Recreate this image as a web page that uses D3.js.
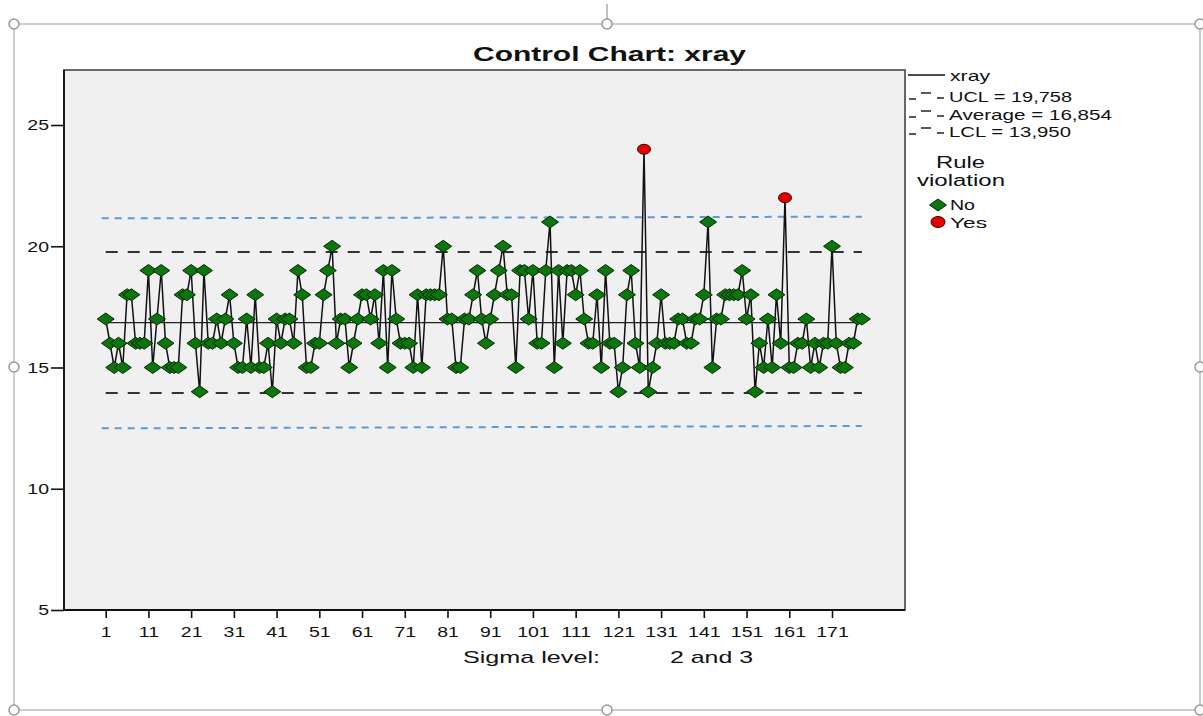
<!DOCTYPE html>
<html>
<head>
<meta charset="utf-8">
<script src="https://cdn.jsdelivr.net/npm/d3@7"></script>
<style>
  html, body { margin: 0; padding: 0; background: #fff; }
  svg { display: block; font-family: 'Liberation Sans', Arial, sans-serif; }
</style>
</head>
<body>
<svg id="chart" width="1203" height="716"></svg>
<script>
// xray sample values, 178 samples
const values = [
  17,16,15,16,15,18,18,16,16,16,
  19,15,17,19,16,15,15,15,18,18,
  19,16,14,19,16,16,17,16,17,18,
  16,15,15,17,15,18,15,15,16,14,
  17,16,17,17,16,19,18,15,15,16,
  16,18,19,20,16,17,17,15,16,17,
  18,18,17,18,16,19,15,19,17,16,
  16,16,15,18,15,18,18,18,18,20,
  17,17,15,15,17,17,18,19,17,16,
  17,18,19,20,18,18,15,19,19,17,
  19,16,16,19,21,15,19,16,19,19,
  18,19,17,16,16,18,15,19,16,16,
  14,15,18,19,16,15,24,14,15,16,
  18,16,16,16,17,17,16,16,17,17,
  18,21,15,17,17,18,18,18,18,19,
  17,18,14,16,15,17,15,18,16,22,
  15,15,16,16,17,15,16,15,16,16,
  20,16,15,15,16,16,17,17
];
const violations = [127, 160]; // sample numbers flagged "Yes"
const limitNames = ['UCL', 'Average', 'LCL'];
const limitValues = [19.758, 16.854, 13.950];
const blueUpper = [21.15, 21.22]; // start / end of the blue dashed band
const blueLower = [12.49, 12.59];
const yTicks = [5, 10, 15, 20, 25];
const xTicks = d3.range(1, 172, 10);
const ruleLabels = ['No', 'Yes'];

const svg = d3.select('#chart');
const green = '#0b760b', red = '#e60000';

// selection frame with handles
svg.append('rect')
  .attr('x', 14).attr('y', 24).attr('width', 1186).attr('height', 686)
  .attr('fill', 'none').attr('stroke', '#bdbdbd').attr('stroke-width', 1.5);
svg.append('line')
  .attr('x1', 607).attr('x2', 607).attr('y1', 4).attr('y2', 19)
  .attr('stroke', '#aaa').attr('stroke-width', 1.5);
const handles = [[14,24],[607,24],[1200,24],[14,367],[1200,367],[14,710],[607,710],[1200,710]];
svg.selectAll('.handle').data(handles).enter().append('circle')
  .attr('cx', d => d[0]).attr('cy', d => d[1]).attr('r', 5)
  .attr('fill', '#fff').attr('stroke', '#999').attr('stroke-width', 1.5);

const plot = { left: 64, top: 70, right: 905, bottom: 610 };
const x = d3.scaleLinear().domain([1, 171]).range([105.7, 832]);
const y = d3.scaleLinear().domain([5, 25]).range([610, 125]);

svg.append('rect')
  .attr('x', plot.left).attr('y', plot.top)
  .attr('width', plot.right - plot.left).attr('height', plot.bottom - plot.top)
  .attr('fill', '#f0f0f0').attr('stroke', '#444').attr('stroke-width', 1.6);

// stretch text horizontally (the reference is wider than tall)
function stretch(sel, k) {
  sel.each(function () {
    const t = d3.select(this);
    const tx = +t.attr('x') || 0, ty = +t.attr('y') || 0;
    t.attr('x', 0).attr('y', 0).attr('transform', `translate(${tx},${ty}) scale(${k},1)`);
  });
}

// axes
const yAxis = svg.append('g')
  .attr('transform', `translate(${plot.left},0)`)
  .call(d3.axisLeft(y).tickValues(yTicks).tickSize(13).tickPadding(2).tickSizeOuter(0));
const xAxis = svg.append('g')
  .attr('transform', `translate(0,${plot.bottom})`)
  .call(d3.axisBottom(x).tickValues(xTicks).tickSize(8).tickPadding(8).tickSizeOuter(0));
[yAxis, xAxis].forEach(a => {
  a.select('.domain').remove();
  a.selectAll('line').attr('stroke', '#111').attr('stroke-width', 1.6);
  a.selectAll('text').attr('font-size', 15).attr('fill', '#111')
    .style('font-family', "'Liberation Sans', Arial, sans-serif");
});
stretch(yAxis.selectAll('text'), 1.3);
stretch(xAxis.selectAll('text'), 1.3);
svg.append('line')
  .attr('x1', plot.left).attr('x2', plot.left).attr('y1', plot.top).attr('y2', plot.bottom)
  .attr('stroke', '#111').attr('stroke-width', 1.8);
svg.append('line')
  .attr('x1', plot.left).attr('x2', plot.right).attr('y1', plot.bottom).attr('y2', plot.bottom)
  .attr('stroke', '#111').attr('stroke-width', 1.8);

const n = values.length;
// blue dashed band
[blueUpper, blueLower].forEach(b => {
  svg.append('line')
    .attr('x1', x(1) - 4).attr('x2', x(n)).attr('y1', y(b[0])).attr('y2', y(b[1]))
    .attr('stroke', '#5b9bd5').attr('stroke-width', 2).attr('stroke-dasharray', '7,6');
});
// control limits
limitValues.forEach((v, i) => {
  const ln = svg.append('line')
    .attr('x1', x(1)).attr('x2', x(n)).attr('y1', y(v)).attr('y2', y(v))
    .attr('stroke', i === 1 ? '#222' : '#333').attr('stroke-width', i === 1 ? 1.3 : 2);
  if (i !== 1) ln.attr('stroke-dasharray', '12,10');
});

// series line
const line = d3.line().x((d, i) => x(i + 1)).y(d => y(d));
svg.append('path').datum(values)
  .attr('d', line).attr('fill', 'none').attr('stroke', '#111').attr('stroke-width', 1.5);

const diamond = 'M0,-6L8.5,0L0,6L-8.5,0Z';
const pts = values.map((v, i) => ({ i: i + 1, v: v, bad: violations.includes(i + 1) }));
svg.selectAll('.pt').data(pts.filter(d => !d.bad)).enter().append('path')
  .attr('d', diamond)
  .attr('transform', d => `translate(${x(d.i)},${y(d.v)})`)
  .attr('fill', green).attr('stroke', '#062806').attr('stroke-width', 1);
svg.selectAll('.bad').data(pts.filter(d => d.bad)).enter().append('ellipse')
  .attr('cx', d => x(d.i)).attr('cy', d => y(d.v)).attr('rx', 6.5).attr('ry', 5)
  .attr('fill', red).attr('stroke', '#3a0000').attr('stroke-width', 1);

// title and axis label
function label(txt, tx, ty, size, width, opts) {
  const t = svg.append('text').attr('x', tx).attr('y', ty)
    .attr('font-size', size).attr('fill', '#111').text(txt);
  if (width) t.attr('textLength', width).attr('lengthAdjust', 'spacingAndGlyphs');
  if (opts && opts.bold) t.attr('font-weight', 'bold');
  if (opts && opts.anchor) t.attr('text-anchor', opts.anchor);
  return t;
}
label('Control Chart: xray', 473, 61, 21, 273, { bold: true });
label('Sigma level:', 463, 663, 17, 137);
label('2 and 3', 670, 663, 17, 83);

// legend
svg.append('line').attr('x1', 908).attr('x2', 945).attr('y1', 75).attr('y2', 75)
  .attr('stroke', '#111').attr('stroke-width', 1.5);
label('xray', 950, 81, 15, 40);
const rowY = [97, 115, 132];
const widths = [123, 163, 122];
limitNames.forEach((name, i) => {
  const ry = rowY[i];
  const g = svg.append('g').attr('stroke', '#222').attr('stroke-width', 1.5);
  g.append('line').attr('x1', 909).attr('x2', 916).attr('y1', ry + 2).attr('y2', ry + 2);
  g.append('line').attr('x1', 921).attr('x2', 931).attr('y1', ry - 4).attr('y2', ry - 4);
  g.append('line').attr('x1', 937).attr('x2', 944).attr('y1', ry + 1).attr('y2', ry + 1);
  label(`${name} = ${limitValues[i].toFixed(3).replace('.', ',')}`, 949, ry + 5, 15, widths[i]);
});
label('Rule', 936, 168, 16, 49);
label('violation', 917, 186, 16, 88);
svg.append('path').attr('d', diamond).attr('transform', 'translate(938,205)')
  .attr('fill', green).attr('stroke', '#062806').attr('stroke-width', 1);
svg.append('ellipse').attr('cx', 938).attr('cy', 222).attr('rx', 7).attr('ry', 5.5)
  .attr('fill', red).attr('stroke', '#3a0000').attr('stroke-width', 1);
label(ruleLabels[0], 950, 210, 15, 25);
label(ruleLabels[1], 950, 228, 15, 37);
</script>
</body>
</html>
